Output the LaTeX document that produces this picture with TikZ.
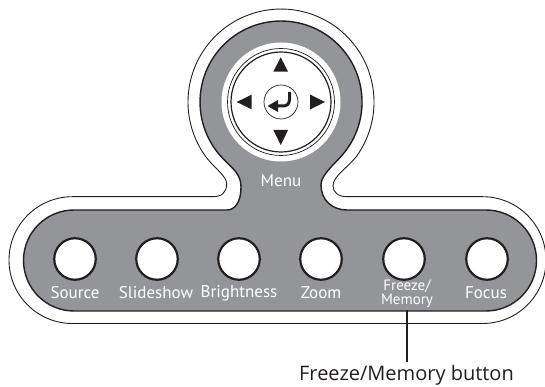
\documentclass[tikz,border=0pt]{standalone}
\usepackage{fontspec}
\setmainfont{Open Sans}
\newfontfamily\labfont{PT Sans}
\definecolor{panel}{HTML}{939598}
\definecolor{ink}{HTML}{231F20}
\tikzset{
  btn/.style={circle,draw=ink,line width=2.2pt,fill=white,minimum size=41.5pt,inner sep=0pt},
  lab/.style={text=white,inner sep=0pt,font=\labfont\fontsize{17}{17}\selectfont},
  tri/.style={fill=ink,draw=none},
}
\begin{document}
\begin{tikzpicture}[x=1pt,y=1pt]
\useasboundingbox (0,0) rectangle (545,387);
\begin{scope}
\clip (0,0) rectangle (545,387);
% outer outline
\draw[ink,line width=0.9pt,fill=white]
  (203,234.3) .. controls (212,220) and (226.7,212) .. (226.7,203)
  .. controls (226.7,195) and (222,190.3) .. (213,190.3)
  -- (72.4,190.3) arc[start angle=90,end angle=270,radius=63.4]
  -- (482.6,63.5) arc[start angle=-90,end angle=90,radius=63.4]
  -- (347,190.3) .. controls (338,190.3) and (333,195) .. (333,201)
  .. controls (333,212) and (350,220) .. (359,234.3)
  arc[start angle=-33,end angle=213,radius=93] -- cycle;
% grey panel
\draw[ink,line width=1.4pt,fill=panel]
  (222.7,228.7) .. controls (233,218) and (241,213) .. (241,200)
  .. controls (241,185) and (235,177) .. (227,177)
  -- (74,177) arc[start angle=90,end angle=270,radius=50.5]
  -- (486,76) arc[start angle=-90,end angle=90,radius=50.5]
  -- (347,177) .. controls (332,177) and (321,187) .. (321,202)
  .. controls (321,210) and (329,218) .. (339.3,228.7)
  arc[start angle=-44,end angle=224,radius=81] -- cycle;
\end{scope}
% direction pad
\node[circle,fill=white,draw=none,minimum size=119pt,inner sep=0pt] (padbase) at (281,285) {};
\node[circle,draw=ink,line width=0.7pt,minimum size=107pt,inner sep=0pt] (padring) at (281,285) {};
\node[circle,draw=ink,line width=1.2pt,minimum size=100pt,inner sep=0pt] (padinner) at (281,285) {};
\node[circle,draw=ink,line width=0.7pt,fill=white,minimum size=34pt,inner sep=0pt] (enter) at (281,285) {};
\fill[tri] (280.7,329.7) -- (273.3,315.3) -- (288.1,315.3) -- cycle;
\fill[tri] (280.7,242) -- (273.3,257) -- (288.1,257) -- cycle;
\fill[tri] (236.7,285) -- (251.7,292.4) -- (251.7,277.6) -- cycle;
\fill[tri] (325,285) -- (310,292.4) -- (310,277.6) -- cycle;
% enter glyph
\draw[ink,line width=3pt] (289.5,295) -- (289.5,288) .. controls (289.5,283) and (287,281) .. (283,281) -- (276,281);
\fill[ink] (267.5,281) -- (278,287) -- (278,275) -- cycle;
% buttons
\node[btn] (b1) at (75,128) {};
\node[btn] (b2) at (157,128) {};
\node[btn] (b3) at (239,128) {};
\node[btn] (b4) at (321,128) {};
\node[btn] (b5) at (404,128) {};
\node[btn] (b6) at (487,128) {};
% labels
\node[lab] (menu) at (281,206) {Menu};
\node[lab] (l1) at (75,94) {Source};
\node[lab] (l2) at (156,94) {Slideshow};
\node[lab] (l3) at (239,94) {Brightness};
\node[lab] (l4) at (321,94) {Zoom};
\node[text=white,inner sep=0pt,align=center,font=\labfont\fontsize{15}{14}\selectfont] (l5) at (407,93) {Freeze/\\Memory};
\node[lab] (l6) at (486,94) {Focus};
% callout
\node[inner sep=0pt,font=\fontsize{20}{20}\selectfont,text=ink] (cap) at (406.5,12) {Freeze/Memory button};
\coordinate (tap) at (cap.center |- 0,77);
\draw[ink,line width=2pt] (tap) -- (406.5,24.5);
\end{tikzpicture}
\end{document}
